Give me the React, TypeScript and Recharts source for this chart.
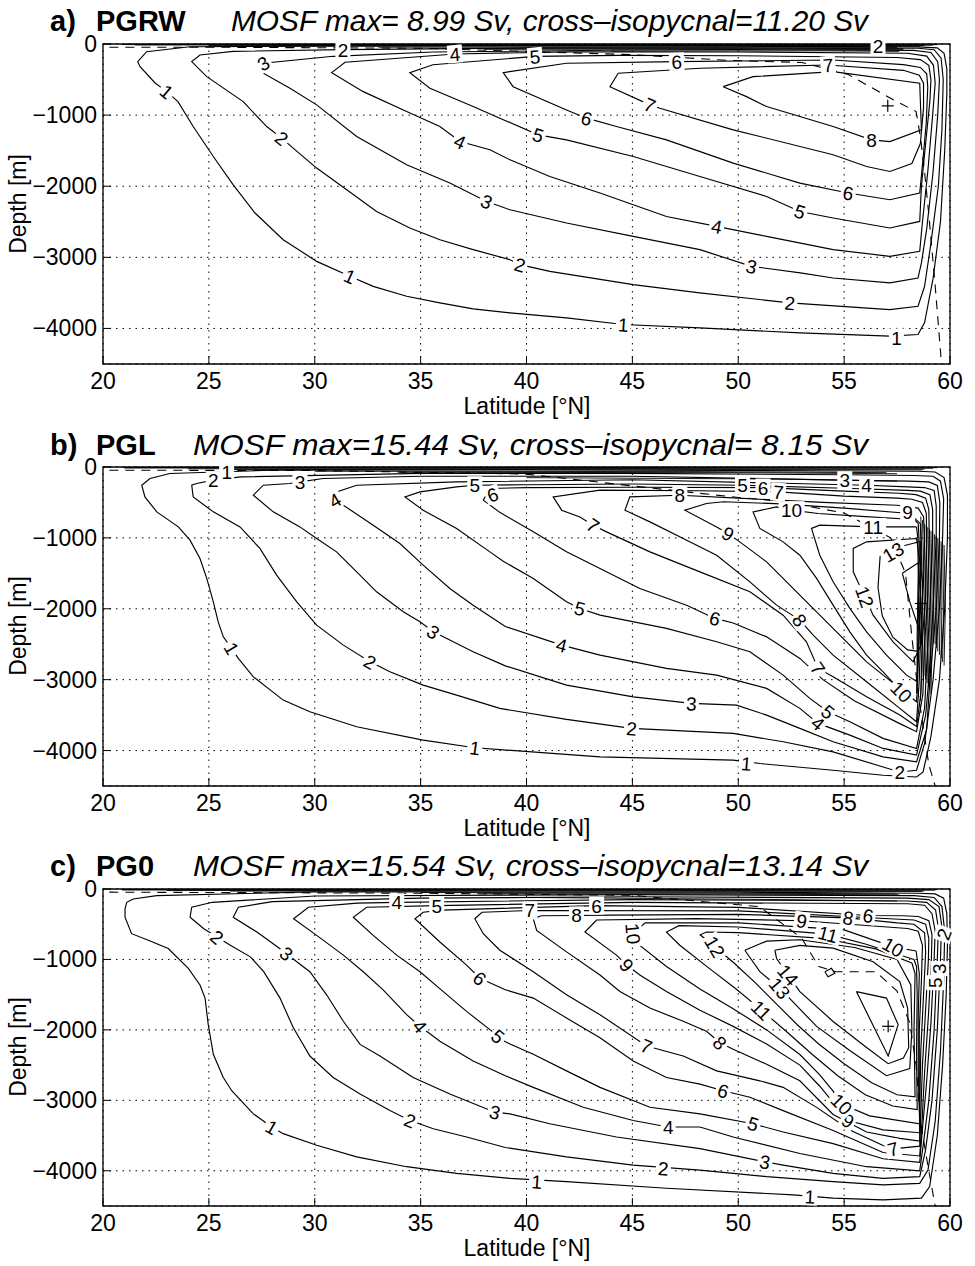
import React from "react";
import { ComposedChart, Line, XAxis, YAxis, CartesianGrid, ReferenceDot, ReferenceArea } from "recharts";

type Pt = [number, number];
type Lbl = [string, number, number, number];

const FONT = "'Liberation Sans', Arial, Helvetica, sans-serif";
const LAT_TICKS = [20, 25, 30, 35, 40, 45, 50, 55, 60];
const DEPTH_TICKS = [0, -1000, -2000, -3000, -4000];
const LAT_DOMAIN: [number, number] = [20, 60];
const DEPTH_DOMAIN: [number, number] = [-4500, 0];

// ---------------- Panel a (PGRW) ----------------
const aC1: Pt[] = [[58.5,-40],[50,-32],[40,-28],[30,-30],[24.1,-38],[22.06,-108],[21.64,-248],[21.75,-319],[22.46,-548],[23.01,-670],[23.54,-810],[24.26,-1161],[25.21,-1582],[26.15,-1980],[27.18,-2377],[28.51,-2752],[30.09,-3057],[31.66,-3267],[32.76,-3408],[34.34,-3548],[35.91,-3641],[37.48,-3725],[39.22,-3781],[41.89,-3851],[44.57,-3945],[48.18,-3992],[52.91,-4062],[57.16,-4109],[58.49,-4086],[58.8,-3917],[59.2,-3300],[59.55,-2500],[59.75,-1500],[59.85,-700],[59.85,-350],[59.72,-130],[59.4,-55],[58.5,-40]];
const aC2: Pt[] = [[58.5,-60],[50,-55],[40,-55],[31.33,-80],[26.14,-103],[24.58,-154],[24.19,-248],[24.9,-459],[26.62,-810],[27.73,-1161],[28.44,-1324],[28.98,-1464],[30.09,-1745],[31.51,-2050],[32.92,-2355],[34.49,-2588],[35.91,-2752],[37.48,-2892],[39.22,-3033],[39.69,-3103],[41.1,-3197],[45.04,-3384],[48.18,-3500],[52.44,-3641],[57.16,-3735],[58.49,-3688],[58.8,-3407],[59.1,-2800],[59.45,-2000],[59.62,-1200],[59.68,-500],[59.58,-200],[59.25,-80],[58.5,-60]];
const aC3: Pt[] = [[58.3,-90],[50,-80],[45,-85],[35.6,-112],[30.87,-173],[27.57,-271],[27.57,-411],[28.83,-622],[30.09,-856],[31.98,-1301],[34.34,-1699],[36.38,-1956],[38.12,-2214],[39.22,-2331],[41.89,-2517],[45.04,-2706],[48.19,-2892],[50.63,-3127],[52.93,-3219],[54.48,-3290],[57.16,-3360],[58.49,-3290],[58.65,-3079],[58.9,-2600],[59.2,-1800],[59.42,-1000],[59.5,-500],[59.42,-250],[59.1,-120],[58.3,-90]];
const aC4: Pt[] = [[58,-130],[50,-112],[42,-110],[36.62,-140],[31.43,-257],[30.8,-403],[32.29,-670],[34.34,-950],[35.91,-1161],[36.86,-1372],[38.27,-1488],[39.22,-1629],[41.1,-1863],[43.47,-2096],[46.61,-2425],[48.98,-2565],[51.34,-2706],[54.48,-2892],[57.16,-2986],[58.57,-2916],[58.7,-2500],[58.95,-1800],[59.18,-1000],[59.3,-550],[59.22,-300],[58.9,-170],[58,-130]];
const aC5: Pt[] = [[57.5,-190],[50,-165],[44.4,-160],[40.4,-175],[35.58,-291],[34.49,-403],[35.44,-622],[37.48,-880],[38.74,-1043],[40.55,-1278],[41.89,-1348],[45.04,-1582],[48.19,-1863],[51.34,-2144],[52.91,-2355],[54.48,-2447],[57.16,-2588],[58.57,-2495],[58.65,-2000],[58.85,-1400],[59.05,-800],[59.1,-500],[59.0,-300],[58.6,-220],[57.5,-190]];
const aC6: Pt[] = [[57.8,-290],[54.47,-225],[47.09,-248],[41.89,-271],[38.9,-403],[39.37,-600],[41.89,-927],[42.84,-1043],[44.25,-1161],[46.61,-1348],[49.76,-1675],[52.91,-1956],[55.19,-2096],[57.16,-2190],[58.57,-2096],[58.7,-1700],[58.88,-1100],[58.95,-600],[58.9,-420],[58.6,-330],[57.8,-290]];
const aC7: Pt[] = [[57.8,-370],[54.24,-295],[48.2,-341],[44.33,-411],[43.94,-600],[45.83,-856],[46.3,-903],[49.76,-1207],[54.48,-1558],[56.06,-1723],[57.16,-1793],[58.2,-1680],[58.6,-1400],[58.75,-900],[58.75,-550],[58.55,-440],[57.8,-370]];
const aC8: Pt[] = [[49.29,-600],[50.7,-459],[54.48,-389],[58.57,-552],[58.65,-1207],[57.16,-1372],[56.29,-1348],[54.48,-1161],[51.34,-880],[50.39,-740],[49.29,-600]];
const aSurf: Pt[][] = [
  [[20.9,-8],[40,-6],[59.4,-10]],
  [[21.5,-14],[40,-12],[59.2,-16]],
  [[25,-20],[45,-19],[58.8,-22]],
  [[28,-26],[48,-24],[58.6,-30]],
  [[33,-45],[50,-42],[57.5,-48]],
  [[36,-62],[52,-60],[57.8,-66]],
  [[38,-75],[52,-72],[57.8,-80]],
  [[44,-100],[54,-96],[57.6,-104]],
];
const aDash: Pt[] = [[20.3,-45],[25,-45],[35,-60],[45,-150],[49.5,-230],[53,-260],[55.2,-430],[57.3,-780],[58.4,-950],[58.6,-1300],[58.8,-1800],[59.0,-2400],[59.3,-3400],[59.6,-4500]];
const aPlus: Pt[] = [[57.06,-870]];
const aLabels: Lbl[] = [
  ["1",23.01,-670,40],["1",31.66,-3267,24],["1",44.57,-3945,4],["1",57.47,-4128,0],
  ["2",28.44,-1324,39],["2",39.69,-3103,16],["2",52.44,-3641,5],
  ["3",27.57,-271,-30],["3",38.12,-2214,24],["3",50.63,-3127,13],
  ["4",36.86,-1372,25],["4",48.98,-2565,11],["4",36.62,-140,-5],
  ["5",40.55,-1278,18],["5",52.91,-2355,18],["5",40.4,-175,-5],
  ["6",42.84,-1043,18],["6",55.19,-2096,10],["6",47.09,-248,-3],
  ["7",45.83,-856,23],["7",54.24,-295,-5],
  ["8",56.29,-1348,0],
  ["2",31.33,-80,0],["2",56.6,-30,0],
];

// ---------------- Panel b (PGL) ----------------
const bC1: Pt[] = [[58.5,-60],[50,-50],[40,-40],[28,-45],[23.16,-92],[22.22,-162],[21.83,-257],[21.98,-422],[22.54,-633],[23.56,-845],[24.11,-1032],[24.58,-1290],[24.9,-1572],[25.21,-1902],[25.44,-2184],[25.68,-2396],[26.08,-2559],[26.39,-2700],[27.1,-2960],[28.51,-3288],[29.77,-3453],[31.98,-3665],[35.12,-3852],[37.56,-3961],[43.47,-4089],[49.76,-4136],[51.02,-4183],[54.48,-4278],[56.84,-4349],[58.42,-4373],[58.73,-4302],[59.1,-3800],[59.5,-3000],[59.75,-2000],[59.88,-1000],[59.88,-400],[59.72,-150],[59.3,-70],[58.5,-60]];
const bC2: Pt[] = [[58.3,-120],[55,-110],[45,-90],[35,-90],[26.5,-140],[25.21,-186],[24.42,-233],[24.19,-257],[24.26,-422],[25.21,-633],[26.47,-845],[27.41,-1149],[28.2,-1526],[29.15,-1902],[30.09,-2231],[31.35,-2513],[32.61,-2748],[33.55,-2889],[35.12,-3077],[36.7,-3218],[38.74,-3405],[41.89,-3560],[44.96,-3687],[49.76,-3758],[52.12,-3876],[54.48,-4018],[56.84,-4231],[57.63,-4302],[58.42,-4278],[58.8,-3900],[59.2,-3000],[59.5,-2000],[59.65,-1000],[59.7,-450],[59.55,-200],[59.2,-130],[58.3,-120]];
const bC3: Pt[] = [[58,-200],[55.03,-186],[45,-130],[35,-130],[30.4,-162],[29.3,-210],[28.83,-233],[27.57,-257],[27.1,-398],[28.04,-633],[29.3,-845],[30.09,-1008],[31.03,-1197],[31.98,-1479],[32.92,-1761],[34.18,-2043],[34.97,-2184],[35.6,-2325],[36.07,-2396],[37.48,-2607],[39.0,-2805],[41.89,-3077],[45.04,-3242],[47.79,-3335],[49.92,-3359],[51.34,-3500],[52.91,-3687],[54.48,-3876],[56.84,-4089],[58.42,-4160],[58.9,-3700],[59.05,-3000],[59.35,-2000],[59.5,-1000],[59.52,-500],[59.4,-260],[59.0,-210],[58,-200]];
const bC4: Pt[] = [[58,-280],[56.06,-257],[45,-180],[36.7,-210],[31.98,-257],[31.03,-351],[30.87,-492],[31.35,-539],[32.76,-821],[34.02,-1079],[35.12,-1385],[36.38,-1713],[37.48,-1949],[39.0,-2250],[41.66,-2513],[43.47,-2654],[46.61,-2841],[48.98,-2936],[51.34,-3123],[52.91,-3405],[53.77,-3617],[55.27,-3782],[56.84,-3970],[58.42,-4065],[58.85,-3500],[59.0,-3000],[59.2,-2000],[59.35,-1000],[59.35,-550],[59.25,-330],[58.8,-290],[58,-280]];
const bC5: Pt[] = [[58,-330],[55,-300],[50.2,-257],[45,-240],[40,-250],[37.56,-257],[36.7,-281],[34.97,-351],[34.26,-422],[35.12,-609],[36.7,-867],[38.27,-1197],[38.9,-1330],[40.32,-1572],[41.89,-1902],[42.52,-1995],[43.47,-2090],[46.61,-2277],[48.98,-2466],[50.55,-2607],[52.12,-2936],[53.38,-3264],[54.24,-3453],[55.27,-3594],[56.84,-3828],[58.42,-3970],[58.8,-3400],[58.9,-2800],[59.05,-2000],[59.18,-1000],[59.18,-600],[59.05,-390],[58.6,-340],[58,-330]];
const bC6: Pt[] = [[57.6,-370],[55,-340],[51.17,-290],[45,-285],[40,-290],[38.27,-303],[37.96,-468],[38.74,-640],[40.32,-915],[41.89,-1197],[43.47,-1431],[45.35,-1713],[47.56,-1949],[48.9,-2136],[49.76,-2200],[51.34,-2396],[52.91,-2700],[54.0,-3000],[55.5,-3300],[57.63,-3620],[58.42,-3735],[58.72,-3200],[58.8,-2500],[58.95,-1800],[59.02,-1000],[59.0,-600],[58.85,-440],[58.4,-390],[57.6,-370]];
const bC7: Pt[] = [[57.5,-440],[55,-410],[51.89,-351],[48,-335],[43.47,-327],[41.26,-422],[41.66,-609],[42.52,-704],[43.15,-821],[43.78,-915],[45.83,-1197],[48.19,-1479],[50.55,-1761],[52.12,-2090],[53.22,-2466],[53.77,-2841],[54.48,-2960],[56.06,-3240],[57.63,-3500],[58.42,-3660],[58.62,-3200],[58.68,-2500],[58.85,-1800],[58.9,-1000],[58.88,-650],[58.7,-500],[58.2,-455],[57.5,-440]];
const bC8: Pt[] = [[57.5,-540],[54,-500],[50,-440],[47.24,-398],[44.88,-422],[44.65,-609],[45.83,-774],[47.4,-1008],[48.98,-1244],[50.55,-1620],[51.81,-1949],[52.91,-2160],[53.54,-2372],[54.48,-2654],[56.06,-3030],[57.63,-3405],[58.42,-3594],[58.55,-3000],[58.62,-2300],[58.75,-1600],[58.8,-1000],[58.75,-700],[58.5,-580],[57.5,-540]];
const bC9: Pt[] = [[58.1,-656],[55,-580],[52,-520],[49.3,-490],[48.5,-515],[47.48,-609],[48.98,-845],[49.52,-938],[50.07,-1056],[51.34,-1338],[52.59,-1713],[53.7,-2043],[54.95,-2418],[56.06,-2750],[57.63,-3123],[58.42,-3312],[58.5,-2800],[58.58,-2000],[58.65,-1300],[58.6,-800],[58.1,-656]];
const bC10: Pt[] = [[58.3,-740],[56,-700],[53.77,-656],[52.52,-609],[51.81,-563],[50.7,-633],[51.02,-867],[52.12,-1056],[52.91,-1244],[53.7,-1572],[54.48,-1949],[55.27,-2325],[56.06,-2654],[56.84,-2889],[57.71,-3171],[58.42,-3218],[58.48,-2600],[58.52,-1800],[58.55,-1100],[58.5,-800],[58.3,-740]];
const bC11: Pt[] = [[58.42,-845],[56.37,-845],[53.85,-821],[53.46,-867],[53.85,-1244],[54.48,-1620],[55.27,-1995],[56.06,-2325],[57.0,-2654],[57.95,-2936],[58.45,-3030],[58.45,-2400],[58.5,-1500],[58.48,-1000],[58.42,-845]];
const bC12: Pt[] = [[58.42,-1008],[56.06,-1056],[55.43,-1149],[55.43,-1479],[55.98,-1832],[56.37,-2090],[57.31,-2466],[58.26,-2748],[58.65,-2500],[58.7,-1600],[58.42,-1008]];
const bC13: Pt[] = [[58.6,-1050],[57.3,-1150],[56.7,-1260],[56.6,-1700],[56.8,-2100],[57.3,-2400],[58.0,-2580],[58.5,-2600],[58.6,-2000],[58.6,-1050]];
const bC14: Pt[] = [[57.75,-1500],[58.5,-1350],[58.6,-1800],[58.55,-2300],[58.1,-1900],[57.75,-1500]];
const bHatch: Pt[][] = [
  [[58.62,-700],[58.68,-1400],[58.72,-2100],[58.68,-2900],[58.6,-3300]],
  [[58.7,-750],[58.76,-1450],[58.8,-2150],[58.76,-2950]],
  [[58.78,-800],[58.84,-1500],[58.88,-2200],[58.84,-3000]],
  [[58.87,-820],[58.92,-1550],[58.95,-2250],[58.92,-3050]],
  [[58.95,-850],[59.0,-1600],[59.02,-2300],[58.98,-3100]],
  [[59.03,-870],[59.08,-1620],[59.1,-2380],[59.05,-3150]],
  [[59.1,-900],[59.15,-1650],[59.16,-2450],[59.1,-3200]],
  [[59.18,-920],[59.22,-1680],[59.23,-2480]],
  [[59.27,-950],[59.3,-1700],[59.3,-2500]],
  [[59.35,-970],[59.38,-1750],[59.36,-2550]],
  [[59.42,-1000],[59.45,-1800],[59.42,-2600]],
  [[59.5,-1020],[59.54,-1850],[59.5,-2650]],
  [[59.58,-1050],[59.62,-1900],[59.58,-2700]],
  [[59.65,-1080],[59.7,-1950],[59.65,-2750]],
  [[59.72,-1100],[59.78,-2000],[59.72,-2800]],
];
const bSurf: Pt[][] = [
  [[21,-8],[40,-6],[59.4,-10]],
  [[21,-14],[40,-12],[59.2,-17]],
  [[24,-25],[45,-22],[58.8,-30]],
  [[26,-36],[45,-33],[58.7,-40]],
  [[30,-60],[48,-65],[57,-80]],
  [[34,-75],[50,-80],[57.5,-95]],
  [[40,-150],[52,-170],[57.5,-200]],
];
const bDash: Pt[] = [[20.3,-45],[30,-50],[40,-100],[46,-300],[50,-430],[52,-480],[55,-650],[57.2,-1000],[57.9,-1500],[58.2,-2400],[58.5,-3200],[59.0,-4200],[59.3,-4500]];
const bPlus: Pt[] = [[58.62,-1925]];
const bLabels: Lbl[] = [
  ["1",25.84,-69,0],["2",25.21,-186,0],["3",29.3,-210,0],["4",30.95,-470,-30],["5",37.56,-257,0],["6",38.4,-390,-20],
  ["1",26.08,-2559,60],["1",37.56,-3961,8],["1",50.38,-4183,5],
  ["2",32.61,-2748,30],["2",44.96,-3687,5],["2",57.63,-4302,0],
  ["3",35.6,-2325,35],["3",47.79,-3335,3],
  ["4",41.66,-2513,15],["4",53.77,-3617,40],
  ["5",42.52,-1995,15],["5",54.24,-3453,40],
  ["6",48.9,-2136,15],
  ["7",43.15,-821,35],["7",53.77,-2841,55],
  ["8",52.91,-2160,55],
  ["9",49.52,-938,30],
  ["10",57.71,-3171,45],
  ["12",55.98,-1832,70],
  ["13",57.31,-1197,-30],
  ["11",56.37,-845,0],["9",58.0,-640,0],["10",52.52,-609,0],["8",47.24,-398,0],
  ["5",50.2,-257,0],["6",51.17,-290,0],["7",51.89,-351,5],["3",55.03,-186,0],["4",56.06,-257,0],
];

// ---------------- Panel c (PG0) ----------------
const cC1: Pt[] = [[58.5,-60],[50,-45],[30,-40],[22.54,-94],[21.43,-141],[21.12,-189],[21.04,-282],[21.04,-400],[21.35,-634],[22.14,-728],[23.08,-845],[24.03,-1126],[24.58,-1362],[24.82,-1549],[24.97,-1925],[25.21,-2347],[25.68,-2675],[26.08,-2864],[27.1,-3192],[27.97,-3379],[28.51,-3473],[30.09,-3638],[31.98,-3802],[34.34,-3942],[36.7,-4036],[39.22,-4107],[41.89,-4154],[46.61,-4248],[52.59,-4342],[54.48,-4389],[56.84,-4413],[58.65,-4389],[59.04,-4224],[59.4,-3500],[59.65,-2500],[59.82,-1500],[59.88,-800],[59.85,-350],[59.7,-130],[59.3,-70],[58.5,-60]];
const cC2: Pt[] = [[58.3,-95],[45,-80],[30,-100],[25.16,-189],[24.19,-259],[24.11,-400],[24.76,-563],[25.39,-681],[26.01,-798],[26.96,-963],[27.59,-1174],[28.36,-1549],[28.99,-1971],[29.77,-2371],[30.87,-2675],[32.14,-2910],[33.55,-3145],[34.5,-3286],[35.6,-3403],[37.17,-3520],[39.0,-3670],[41.89,-3802],[45.04,-3920],[48.19,-3990],[51.34,-4083],[54.48,-4154],[56.84,-4201],[58.57,-4178],[58.96,-3990],[59.3,-3300],[59.55,-2300],[59.7,-1300],[59.75,-600],[59.62,-250],[59.25,-120],[58.3,-95]];
const cC3: Pt[] = [[58,-130],[45,-110],[35,-130],[28,-180],[26.39,-259],[26.15,-400],[27.27,-611],[28.67,-915],[29.15,-1033],[29.77,-1174],[30.56,-1502],[31.35,-1878],[32.14,-2206],[33.08,-2371],[34.65,-2675],[36.38,-2910],[38.51,-3168],[39.22,-3192],[41.1,-3333],[44.25,-3520],[48.19,-3685],[51.26,-3872],[52.12,-3920],[54.48,-4036],[56.84,-4107],[58.57,-4083],[58.85,-3700],[59.15,-3000],[59.4,-2000],[59.55,-1000],[59.6,-500],[59.48,-250],[59.0,-150],[58,-130]];
const cC4: Pt[] = [[58,-170],[45,-150],[33.87,-189],[32,-200],[29.7,-259],[29.0,-422],[30.09,-658],[31.35,-939],[32.29,-1174],[33.23,-1432],[34.34,-1784],[34.97,-1949],[35.91,-2160],[37.48,-2441],[39.0,-2650],[40.32,-2816],[42.68,-3098],[45.04,-3286],[46.69,-3379],[48.19,-3379],[49.76,-3520],[52.91,-3755],[56.06,-3942],[58.57,-4000],[58.75,-3600],[59.0,-3000],[59.25,-2000],[59.4,-1000],[59.45,-550],[59.32,-300],[58.9,-190],[58,-170]];
const cC5: Pt[] = [[58,-210],[45,-190],[35.76,-235],[32.45,-259],[31.82,-400],[32.76,-658],[33.87,-939],[34.97,-1174],[36.07,-1456],[37.17,-1737],[38.66,-2089],[39.0,-2170],[40.32,-2347],[41.89,-2582],[43.47,-2816],[45.83,-3098],[48.19,-3192],[50.7,-3333],[52.12,-3450],[54.48,-3614],[56.84,-3830],[58.57,-3880],[58.7,-3400],[58.88,-2800],[59.1,-1900],[59.25,-1000],[59.3,-600],[59.15,-350],[58.8,-230],[58,-210]];
const cC6: Pt[] = [[57.8,-380],[56.13,-376],[50,-260],[43.31,-235],[36,-300],[35.12,-330],[34.73,-422],[35.91,-752],[37.17,-1080],[37.8,-1267],[39.0,-1430],[40.32,-1549],[41.89,-1830],[43.47,-2112],[45.04,-2441],[46.61,-2675],[48.19,-2770],[49.29,-2864],[50.55,-2957],[52.12,-3146],[54.48,-3427],[56.84,-3740],[58.57,-3790],[58.68,-3300],[58.8,-2600],[58.98,-1800],[59.12,-1000],[59.15,-650],[59.0,-450],[58.5,-390],[57.8,-380]];
const cC7: Pt[] = [[57.6,-430],[50,-310],[40.16,-305],[37.9,-330],[37.56,-422],[37.96,-634],[38.74,-869],[40.32,-1174],[41.89,-1502],[43.47,-1784],[45.67,-2230],[47.4,-2371],[48.98,-2582],[51.02,-2723],[52.12,-2816],[53.7,-3100],[55.27,-3420],[56.84,-3640],[57.31,-3690],[58.57,-3650],[58.62,-3200],[58.7,-2500],[58.85,-1700],[58.98,-1000],[59.0,-700],[58.85,-500],[58.3,-440],[57.6,-430]];
const cC8: Pt[] = [[57.5,-480],[55.19,-410],[50,-360],[44,-370],[42.36,-376],[40.7,-380],[40.32,-422],[40.48,-587],[41.89,-893],[43.47,-1221],[44.41,-1456],[45.83,-1690],[47.4,-1878],[48.5,-2019],[49.14,-2182],[49.76,-2276],[51.34,-2487],[52.91,-2723],[54.48,-3200],[56.06,-3450],[57.63,-3540],[58.57,-3580],[58.58,-3000],[58.62,-2300],[58.75,-1500],[58.85,-900],[58.8,-620],[58.3,-500],[57.5,-480]];
const cC9: Pt[] = [[58,-560],[52.99,-450],[48,-420],[43.31,-440],[42.76,-611],[44.25,-939],[44.73,-1080],[45.35,-1221],[46.61,-1456],[48.19,-1720],[49.76,-1950],[51.34,-2200],[52.91,-2500],[53.85,-2800],[54.48,-3030],[55.19,-3286],[56.84,-3420],[58.57,-3460],[58.55,-2800],[58.55,-2000],[58.65,-1300],[58.7,-800],[58.5,-600],[58,-560]];
const cC10: Pt[] = [[58.4,-880],[57.31,-822],[55,-580],[50,-480],[45.6,-480],[45.04,-634],[45.35,-800],[46.61,-1100],[48.19,-1420],[49.76,-1700],[51.34,-2000],[52.91,-2350],[53.85,-2640],[54.48,-2870],[54.88,-3051],[56.2,-3220],[58.57,-3333],[58.5,-2600],[58.5,-1800],[58.55,-1200],[58.4,-880]];
const cC11: Pt[] = [[58.3,-1000],[56,-780],[54.24,-640],[50,-540],[47.2,-520],[46.61,-611],[47.24,-798],[48.6,-1120],[49.9,-1420],[51.1,-1720],[52.3,-2030],[53.5,-2350],[54.7,-2650],[56.0,-2920],[57.3,-3080],[58.45,-3130],[58.42,-2300],[58.45,-1500],[58.42,-1100],[58.3,-1000]];
const cC12: Pt[] = [[58.2,-1050],[56.5,-850],[54,-700],[50,-620],[48.5,-610],[48.2,-650],[48.9,-820],[49.8,-1050],[50.8,-1330],[51.8,-1630],[52.8,-1930],[53.8,-2200],[55.0,-2480],[56.3,-2750],[57.5,-2920],[58.35,-2950],[58.3,-2000],[58.35,-1200],[58.2,-1050]];
const cC13: Pt[] = [[50.31,-869],[51.34,-740],[52.91,-720],[55.5,-830],[57.5,-1000],[58.15,-1362],[58.2,-2000],[58.1,-2550],[57.0,-2650],[55.3,-2300],[53.7,-1950],[51.96,-1408],[51.02,-1174],[50.31,-869]];
const cC14: Pt[] = [[51.73,-869],[52.91,-800],[54.48,-840],[56.37,-1033],[57.63,-1315],[58.0,-1690],[58.05,-2253],[57.8,-2400],[57.08,-2480],[56.06,-2250],[54.48,-1880],[52.91,-1456],[51.81,-986],[51.73,-869]];
const cC15: Pt[] = [[55.58,-1456],[57.0,-1549],[57.55,-1925],[57.08,-2371],[55.58,-1456]];
const cC15b: Pt[] = [[54.09,-1174],[54.4,-1126],[54.56,-1197],[54.24,-1245],[54.09,-1174]];
const cSurf: Pt[][] = [
  [[20.9,-8],[40,-6],[59.4,-10]],
  [[20.9,-14],[40,-12],[59.3,-16]],
  [[23,-22],[45,-20],[58.8,-26]],
  [[26,-30],[45,-30],[58.7,-36]],
  [[35,-50],[50,-60],[57.5,-70]],
  [[38,-66],[50,-72],[57.6,-84]],
  [[40,-120],[52,-150],[57.5,-170]],
];
const cDash: Pt[] = [[20.3,-45],[35,-60],[45,-90],[51,-250],[53.0,-700],[53.8,-1100],[54.6,-1174],[56.5,-1174],[57.5,-1450],[58.1,-1900],[58.4,-2500],[58.6,-3300],[59.0,-4000],[59.3,-4500]];
const cPlus: Pt[] = [[57.08,-1949]];
const cLabels: Lbl[] = [
  ["1",27.97,-3379,30],["1",40.48,-4154,4],["1",53.38,-4365,3],
  ["2",25.39,-681,40],["2",34.5,-3286,22],["2",46.46,-3966,4],
  ["3",28.67,-915,40],["3",38.51,-3168,15],["3",51.26,-3872,10],
  ["4",34.97,-1949,50],["4",46.69,-3379,0],["4",33.87,-189,0],
  ["5",38.66,-2089,40],["5",50.7,-3333,18],["5",35.76,-235,0],
  ["6",37.8,-1267,40],["6",49.29,-2864,18],["6",43.31,-235,0],["6",56.13,-376,10],
  ["7",45.67,-2230,22],["7",57.31,-3690,-15],["7",40.16,-305,0],
  ["8",49.14,-2182,45],["8",42.36,-376,0],["8",55.19,-410,10],
  ["9",44.73,-1080,50],["9",55.19,-3286,30],["9",52.99,-450,10],
  ["10",45.04,-634,85],["10",54.88,-3051,45],["10",57.31,-822,30],
  ["11",51.1,-1720,45],["11",54.24,-640,15],
  ["12",48.9,-820,60],["13",51.96,-1408,50],["14",52.36,-1221,50],
  ["2",59.7,-640,-70],["3",59.5,-1130,-90],["5",59.3,-1330,-90],
];

const toRows = (pts: Pt[]) => pts.map(([lat, depth]) => ({ lat, depth }));
const fmt = (v: number) => (v < 0 ? "\u2212" + Math.abs(v) : String(v));

const BottomTick = (p: any) => (
  <g>
    <line x1={p.x} x2={p.x} y1={p.y} y2={p.y - 8} stroke="#000" strokeWidth={1} />
    <text x={p.x} y={p.y + 25} textAnchor="middle" fontSize={23} fontFamily={FONT} fill="#000">{fmt(p.payload.value)}</text>
  </g>
);
const TopTick = (p: any) => (
  <line x1={p.x} x2={p.x} y1={p.y} y2={p.y + 8} stroke="#000" strokeWidth={1} />
);
const LeftTick = (p: any) => (
  <g>
    <line x1={p.x} x2={p.x + 8} y1={p.y} y2={p.y} stroke="#000" strokeWidth={1} />
    <text x={p.x - 6} y={p.y + 8} textAnchor="end" fontSize={23} fontFamily={FONT} fill="#000">{fmt(p.payload.value)}</text>
  </g>
);
const RightTick = (p: any) => (
  <line x1={p.x} x2={p.x - 8} y1={p.y} y2={p.y} stroke="#000" strokeWidth={1} />
);

const ContourLabel = ({ cx, cy, text, angle }: any) => {
  const w = text.length * 11 + 4;
  return (
    <g transform={`translate(${cx},${cy}) rotate(${angle})`}>
      <rect x={-w / 2} y={-9} width={w} height={18} fill="#fff" />
      <text x={0} y={7} textAnchor="middle" fontSize={19} fontFamily={FONT} fill="#000">{text}</text>
    </g>
  );
};
const PlusMark = ({ cx, cy }: any) => (
  <g>
    <line x1={cx - 6} x2={cx + 6} y1={cy} y2={cy} stroke="#000" strokeWidth={1.2} />
    <line x1={cx} x2={cx} y1={cy - 6} y2={cy + 6} stroke="#000" strokeWidth={1.2} />
  </g>
);

type PanelProps = {
  top: number; marginTop: number; xAxisHeight: number;
  contours: Pt[][]; extra: Pt[][]; dash: Pt[]; labels: Lbl[]; plus: Pt[];
};

function Panel({ top, marginTop, xAxisHeight, contours, extra, dash, labels, plus }: PanelProps) {
  return (
    <div style={{ position: "absolute", left: 0, top }}>
      <ComposedChart width={975} height={422} margin={{ top: marginTop, right: 25, bottom: 0, left: 0 }}>
        <CartesianGrid stroke="#000" strokeDasharray="1.5 5" strokeWidth={1} />
        <XAxis dataKey="lat" type="number" domain={LAT_DOMAIN} ticks={LAT_TICKS} allowDataOverflow interval={0}
          height={xAxisHeight} axisLine={false} tickLine={false} tickSize={0} tickMargin={0} tick={(p: any) => <BottomTick {...p} />} />
        <XAxis xAxisId="t" orientation="top" dataKey="lat" type="number" domain={LAT_DOMAIN} ticks={LAT_TICKS} allowDataOverflow interval={0}
          height={0} axisLine={false} tickLine={false} tickSize={0} tickMargin={0} tick={(p: any) => <TopTick {...p} />} />
        <YAxis type="number" domain={DEPTH_DOMAIN} ticks={DEPTH_TICKS} allowDataOverflow interval={0}
          width={103} axisLine={false} tickLine={false} tickSize={0} tickMargin={0} tick={(p: any) => <LeftTick {...p} />} />
        <YAxis yAxisId="r" orientation="right" type="number" domain={DEPTH_DOMAIN} ticks={DEPTH_TICKS} allowDataOverflow interval={0}
          width={0} axisLine={false} tickLine={false} tickSize={0} tickMargin={0} tick={(p: any) => <RightTick {...p} />} />
        <ReferenceArea x1={20} x2={60} y1={-4500} y2={0} fill="none" fillOpacity={0} stroke="#000" strokeWidth={1.3} ifOverflow="visible" />
        {extra.map((pts, i) => (
          <Line key={"e" + i} data={toRows(pts)} dataKey="depth" type="linear" dot={false} activeDot={false}
            stroke="#000" strokeWidth={0.9} isAnimationActive={false} legendType="none" />
        ))}
        {contours.map((pts, i) => (
          <Line key={"c" + i} data={toRows(pts)} dataKey="depth" type="linear" dot={false} activeDot={false}
            stroke="#000" strokeWidth={1.15} isAnimationActive={false} legendType="none" />
        ))}
        <Line data={toRows(dash)} dataKey="depth" type="linear" dot={false} activeDot={false}
          stroke="#000" strokeWidth={1.1} strokeDasharray="9 7" isAnimationActive={false} legendType="none" />
        {labels.map(([t, lat, depth, ang], i) => (
          <ReferenceDot key={"l" + i} x={lat} y={depth} r={2} ifOverflow="visible"
            shape={(p: any) => <ContourLabel cx={p.cx} cy={p.cy} text={t} angle={ang} />} />
        ))}
        {plus.map(([lat, depth], i) => (
          <ReferenceDot key={"p" + i} x={lat} y={depth} r={2} ifOverflow="visible"
            shape={(p: any) => <PlusMark cx={p.cx} cy={p.cy} />} />
        ))}
      </ComposedChart>
    </div>
  );
}

const titles = [
  { letter: "a)", name: "PGRW", info: "MOSF max= 8.99 Sv, cross\u2013isopycnal=11.20 Sv", y: 31, infoX: 231 },
  { letter: "b)", name: "PGL", info: "MOSF max=15.44 Sv, cross\u2013isopycnal= 8.15 Sv", y: 455, infoX: 193 },
  { letter: "c)", name: "PG0", info: "MOSF max=15.54 Sv, cross\u2013isopycnal=13.14 Sv", y: 876, infoX: 193 },
];
const plotBottoms = [364, 786, 1206];
const plotCenters = [204, 626, 1047];

export default function App() {
  return (
    <div style={{ position: "absolute", left: 0, top: 0, width: 975, height: 1266, background: "#fff" }}>
      <Panel top={0} marginTop={44} xAxisHeight={58}
        contours={[aC1, aC2, aC3, aC4, aC5, aC6, aC7, aC8]} extra={aSurf} dash={aDash} labels={aLabels} plus={aPlus} />
      <Panel top={422} marginTop={45} xAxisHeight={58}
        contours={[bC1, bC2, bC3, bC4, bC5, bC6, bC7, bC8, bC9, bC10, bC11, bC12, bC13, bC14]} extra={[...bSurf, ...bHatch]} dash={bDash} labels={bLabels} plus={bPlus} />
      <Panel top={844} marginTop={45} xAxisHeight={60}
        contours={[cC1, cC2, cC3, cC4, cC5, cC6, cC7, cC8, cC9, cC10, cC11, cC12, cC13, cC14, cC15, cC15b]} extra={cSurf} dash={cDash} labels={cLabels} plus={cPlus} />
      <svg width={975} height={1266} style={{ position: "absolute", left: 0, top: 0, pointerEvents: "none" }}>
        {titles.map((t, i) => (
          <g key={i} fontFamily={FONT} fill="#000">
            <text x={50} y={t.y} fontSize={29} fontWeight="bold">{t.letter}</text>
            <text x={96} y={t.y} fontSize={29} fontWeight="bold">{t.name}</text>
            <text x={t.infoX} y={t.y} fontSize={29} fontStyle="italic" textLength={868 - t.infoX} lengthAdjust="spacingAndGlyphs">{t.info}</text>
          </g>
        ))}
        {plotBottoms.map((b, i) => (
          <text key={"xl" + i} x={527} y={b + 50} textAnchor="middle" fontSize={23} fontFamily={FONT} fill="#000">Latitude  [°N]</text>
        ))}
        {plotCenters.map((c, i) => (
          <text key={"yl" + i} x={0} y={0} transform={`translate(26,${c}) rotate(-90)`} textAnchor="middle" fontSize={23} fontFamily={FONT} fill="#000">Depth  [m]</text>
        ))}
      </svg>
    </div>
  );
}
